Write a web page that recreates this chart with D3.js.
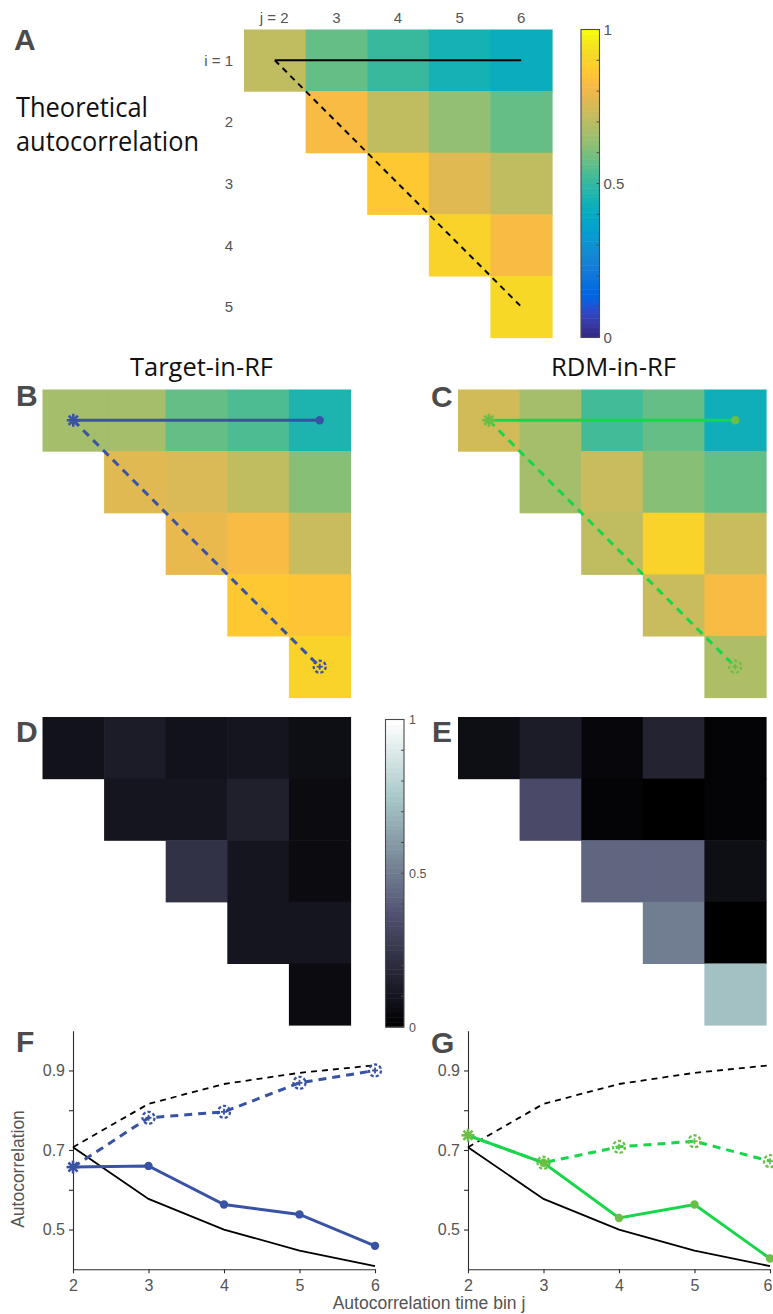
<!DOCTYPE html>
<html>
<head>
<meta charset="utf-8">
<script src="https://cdn.jsdelivr.net/npm/d3@7"></script>
<style>
  body { margin: 0; background: #fff; }
  svg { display: block; }
</style>
</head>
<body>
<svg id="fig" width="773" height="1314"></svg>
<script>
// ---- data ----------------------------------------------------------------
const timeBins = [2, 3, 4, 5, 6];   // j
const refBins  = [1, 2, 3, 4, 5];   // i

// autocorrelation matrices, rows i = 1..5, columns j = 2..6 (null below diagonal)
const theoryCorr = [
  [0.707, 0.577, 0.500, 0.447, 0.408],
  [null,  0.816, 0.707, 0.632, 0.577],
  [null,  null,  0.866, 0.775, 0.707],
  [null,  null,  null,  0.894, 0.816],
  [null,  null,  null,  null,  0.913]
];
const targetCorr = [
  [0.657, 0.660, 0.563, 0.538, 0.459],
  [null,  0.781, 0.758, 0.712, 0.617],
  [null,  null,  0.796, 0.825, 0.727],
  [null,  null,  null,  0.869, 0.850],
  [null,  null,  null,  null,  0.900]
];
const rdmCorr = [
  [0.737, 0.668, 0.529, 0.563, 0.427],
  [null,  0.668, 0.728, 0.617, 0.565],
  [null,  null,  0.708, 0.905, 0.727],
  [null,  null,  null,  0.722, 0.818],
  [null,  null,  null,  null,  0.672]
];
// deviation from theory, 0..1
const targetDev = [
  [0.085, 0.130, 0.085, 0.105, 0.075],
  [null,  0.100, 0.100, 0.145, 0.060],
  [null,  null,  0.225, 0.100, 0.050],
  [null,  null,  null,  0.100, 0.105],
  [null,  null,  null,  null,  0.055]
];
const rdmDev = [
  [0.070, 0.140, 0.040, 0.160, 0.025],
  [null,  0.335, 0.020, 0.002, 0.030],
  [null,  null,  0.430, 0.430, 0.070],
  [null,  null,  null,  0.508, 0.005],
  [null,  null,  null,  null,  0.725]
];

const corrTicks = [0.5, 0.6, 0.7, 0.8, 0.9];
const corrTickLabels = ["0.5", "", "0.7", "", "0.9"];
const cbarTicks = [0, 0.1, 0.2, 0.3, 0.4, 0.5, 0.6, 0.7, 0.8, 0.9, 1];
const cbarLabels = { 0: "0", 0.5: "0.5", 1: "1" };

// ---- colour maps ---------------------------------------------------------
const PARULA = [
[0.2081,0.1663,0.5292],[0.2116,0.1898,0.5777],[0.2123,0.2138,0.6270],[0.2081,0.2386,0.6771],
[0.1959,0.2645,0.7279],[0.1707,0.2919,0.7792],[0.1253,0.3242,0.8303],[0.0591,0.3598,0.8683],
[0.0117,0.3875,0.8820],[0.0060,0.4086,0.8828],[0.0165,0.4266,0.8786],[0.0329,0.4430,0.8720],
[0.0498,0.4586,0.8641],[0.0629,0.4737,0.8554],[0.0723,0.4887,0.8467],[0.0779,0.5040,0.8384],
[0.0793,0.5200,0.8312],[0.0749,0.5375,0.8263],[0.0641,0.5570,0.8240],[0.0488,0.5772,0.8228],
[0.0343,0.5966,0.8199],[0.0265,0.6137,0.8135],[0.0239,0.6287,0.8038],[0.0231,0.6418,0.7913],
[0.0228,0.6535,0.7768],[0.0267,0.6642,0.7607],[0.0384,0.6743,0.7436],[0.0590,0.6838,0.7254],
[0.0843,0.6928,0.7062],[0.1133,0.7015,0.6859],[0.1453,0.7098,0.6646],[0.1801,0.7177,0.6424],
[0.2178,0.7250,0.6193],[0.2586,0.7317,0.5954],[0.3022,0.7376,0.5712],[0.3482,0.7424,0.5473],
[0.3953,0.7459,0.5244],[0.4420,0.7481,0.5033],[0.4871,0.7491,0.4840],[0.5300,0.7491,0.4661],
[0.5709,0.7485,0.4494],[0.6099,0.7473,0.4337],[0.6473,0.7456,0.4188],[0.6834,0.7435,0.4044],
[0.7184,0.7411,0.3905],[0.7525,0.7384,0.3768],[0.7858,0.7356,0.3633],[0.8185,0.7327,0.3498],
[0.8507,0.7299,0.3360],[0.8824,0.7274,0.3217],[0.9139,0.7258,0.3063],[0.9450,0.7261,0.2886],
[0.9739,0.7314,0.2666],[0.9938,0.7455,0.2403],[0.9990,0.7653,0.2164],[0.9955,0.7861,0.1967],
[0.9880,0.8066,0.1794],[0.9789,0.8271,0.1633],[0.9697,0.8481,0.1475],[0.9626,0.8705,0.1309],
[0.9589,0.8949,0.1132],[0.9598,0.9218,0.0948],[0.9661,0.9514,0.0755],[0.9763,0.9831,0.0538]
];
const toHex = c => d3.rgb(c[0] * 255, c[1] * 255, c[2] * 255).formatHex();
const parulaColors = PARULA.map(toHex);

// "bone": 7/8 gray plus 1/8 reversed "hot"
function boneColors(m) {
  const n = Math.floor(3 / 8 * m), out = [];
  for (let k = 0; k < m; k++) {
    const gray = k / (m - 1);
    const hr = k < n ? (k + 1) / n : 1;
    const hg = k < n ? 0 : (k < 2 * n ? (k - n + 1) / n : 1);
    const hb = k < 2 * n ? 0 : (k - 2 * n + 1) / (m - 2 * n);
    out.push(toHex([(7 * gray + hb) / 8, (7 * gray + hg) / 8, (7 * gray + hr) / 8]));
  }
  return out;
}
const bone = boneColors(64);

const parulaScale = d3.scaleQuantize().domain([0, 1]).range(parulaColors);
const boneScale = d3.scaleQuantize().domain([0, 1]).range(bone);

// ---- styling -------------------------------------------------------------
const CELL = 61.6;
const BLUE = "#3953a4";
const GREEN_LINE = "#17d64a";
const GREEN_MARK = "#6bbf47";
const AX = "#2b2b2b";
const TXT = "#545454";
const SANS = "'Liberation Sans', Arial, Helvetica, sans-serif";
const HUMAN = "'Open Sans', 'Noto Sans', sans-serif";

const svg = d3.select("#fig");
svg.append("rect").attr("width", 773).attr("height", 1314).attr("fill", "#fff");

// ---- helpers -------------------------------------------------------------
function gridScales(x0, y0) {
  return {
    x: d3.scaleBand().domain(timeBins).range([x0, x0 + 5 * CELL]),
    y: d3.scaleBand().domain(refBins).range([y0, y0 + 5 * CELL])
  };
}

function drawMatrix(sc, matrix, cscale) {
  const g = svg.append("g");
  const cells = [];
  matrix.forEach((row, r) => row.forEach((v, c) => {
    if (v !== null) cells.push({ i: refBins[r], j: timeBins[c], v });
  }));
  g.selectAll("rect").data(cells).join("rect")
    .attr("x", d => sc.x(d.j))
    .attr("y", d => sc.y(d.i))
    .attr("width", sc.x.bandwidth() + 0.6)
    .attr("height", sc.y.bandwidth() + 0.6)
    .attr("fill", d => cscale(d.v));
  return g;
}

function asterisk(g, x, y, r, color, w) {
  [0, 45, 90, 135].forEach(a => {
    const rad = a * Math.PI / 180, dx = Math.cos(rad) * r, dy = Math.sin(rad) * r;
    g.append("line")
      .attr("x1", x - dx).attr("y1", y - dy).attr("x2", x + dx).attr("y2", y + dy)
      .attr("stroke", color).attr("stroke-width", w);
  });
}
// broken-ring marker used on the dashed series
function ringMarker(g, x, y, color) {
  g.append("circle").attr("cx", x).attr("cy", y).attr("r", 6)
    .attr("fill", "none").attr("stroke", color).attr("stroke-width", 2.3)
    .attr("stroke-dasharray", "3.2,2.1");
  [0, 90].forEach(a => {
    const rad = a * Math.PI / 180, dx = Math.cos(rad) * 3, dy = Math.sin(rad) * 3;
    g.append("line")
      .attr("x1", x - dx).attr("y1", y - dy).attr("x2", x + dx).attr("y2", y + dy)
      .attr("stroke", color).attr("stroke-width", 1.8);
  });
}
function dot(g, x, y, r, color) {
  g.append("circle").attr("cx", x).attr("cy", y).attr("r", r).attr("fill", color);
}

// lines along row i = 1 and along the diagonal, laid over a matrix
function overlay(sc, lineColor, markColor, dashed) {
  const g = svg.append("g");
  const cx = j => sc.x(j) + sc.x.bandwidth() / 2;
  const cy = i => sc.y(i) + sc.y.bandwidth() / 2;
  const jFirst = timeBins[0], jLast = timeBins[timeBins.length - 1];
  const iFirst = refBins[0], iLast = refBins[refBins.length - 1];
  g.append("line")
    .attr("x1", cx(jFirst)).attr("y1", cy(iFirst)).attr("x2", cx(jLast)).attr("y2", cy(iLast))
    .attr("stroke", lineColor).attr("stroke-width", dashed ? 2 : 3)
    .attr("stroke-dasharray", dashed ? "6,5" : "8,6");
  g.append("line")
    .attr("x1", cx(jFirst)).attr("y1", cy(iFirst)).attr("x2", cx(jLast)).attr("y2", cy(iFirst))
    .attr("stroke", lineColor).attr("stroke-width", dashed ? 2 : 3);
  if (markColor) {
    asterisk(g, cx(jFirst), cy(iFirst), 6.5, markColor, 2.6);
    dot(g, cx(jLast), cy(iFirst), 4.2, markColor);
    ringMarker(g, cx(jLast), cy(iLast), markColor);
  }
}

function colorbar(x0, y0, y1, colors, fontSize, labelDx) {
  const g = svg.append("g");
  const w = 18.5;
  const ys = d3.scaleLinear().domain([0, 1]).range([y1, y0]);
  const n = colors.length;
  g.selectAll("rect.c").data(colors).join("rect").attr("class", "c")
    .attr("x", x0).attr("width", w)
    .attr("y", (d, k) => ys((k + 1) / n))
    .attr("height", (d, k) => ys(k / n) - ys((k + 1) / n) + 0.5)
    .attr("fill", d => d);
  g.append("rect").attr("x", x0).attr("y", y0).attr("width", w).attr("height", y1 - y0)
    .attr("fill", "none").attr("stroke", "#4a4a4a").attr("stroke-width", 1.1);
  cbarTicks.forEach(t => {
    g.append("line").attr("x1", x0 + w).attr("x2", x0 + w - 3)
      .attr("y1", ys(t)).attr("y2", ys(t)).attr("stroke", "#4a4a4a").attr("stroke-width", 1);
    if (cbarLabels[t] !== undefined) {
      g.append("text").attr("x", x0 + w + labelDx).attr("y", ys(t))
        .attr("dy", "0.36em").attr("font-family", SANS).attr("font-size", fontSize)
        .attr("fill", TXT).text(cbarLabels[t]);
    }
  });
}

function panelLetter(txt, x, y) {
  svg.append("text").attr("x", x).attr("y", y).attr("font-family", SANS)
    .attr("font-weight", "bold").attr("font-size", 30).attr("fill", "#4b4b4b").text(txt);
}

function fittedText(txt, x, y, size, width, anchor) {
  svg.append("text").attr("x", x).attr("y", y).attr("font-family", HUMAN)
    .attr("font-size", size).attr("fill", "#111").attr("text-anchor", anchor || "start")
    .attr("textLength", width).attr("lengthAdjust", "spacingAndGlyphs").text(txt);
}

// ---- panel A : theoretical autocorrelation ------------------------------
const scA = gridScales(244, 29.5);
drawMatrix(scA, theoryCorr, parulaScale);
overlay(scA, "#000", null, true);
timeBins.forEach((j, k) => {
  svg.append("text").attr("x", scA.x(j) + scA.x.bandwidth() / 2 + (k === 0 ? -15 : 0)).attr("y", 23)
    .attr("text-anchor", k === 0 ? "start" : "middle").attr("font-family", SANS)
    .attr("font-size", 15).attr("fill", TXT).text(k === 0 ? "j = " + j : j);
});
refBins.forEach((i, k) => {
  svg.append("text").attr("x", 233).attr("y", scA.y(i) + scA.y.bandwidth() / 2)
    .attr("dy", "0.36em").attr("text-anchor", "end").attr("font-family", SANS)
    .attr("font-size", 15).attr("fill", TXT).text(k === 0 ? "i = " + i : i);
});
colorbar(581, 29.5, 337.5, parulaColors, 15, 4);
panelLetter("A", 14, 50);
fittedText("Theoretical", 16, 117, 27, 132);
fittedText("autocorrelation", 16, 151, 27, 183);

// ---- panels B, C : measured autocorrelation -----------------------------
const scB = gridScales(42.5, 389.5);
const scC = gridScales(458, 389.5);
drawMatrix(scB, targetCorr, parulaScale);
drawMatrix(scC, rdmCorr, parulaScale);
overlay(scB, BLUE, BLUE, false);
overlay(scC, GREEN_LINE, GREEN_MARK, false);
fittedText("Target-in-RF", 201.5, 376, 26, 143, "middle");
fittedText("RDM-in-RF", 613.5, 376, 26, 125, "middle");
panelLetter("B", 16, 406);
panelLetter("C", 431, 407);

// ---- panels D, E : deviation from theory --------------------------------
const scD = gridScales(42.5, 717);
const scE = gridScales(458, 717);
drawMatrix(scD, targetDev, boneScale);
drawMatrix(scE, rdmDev, boneScale);
colorbar(385.5, 719.5, 1027, bone, 12.5, 5);
panelLetter("D", 16, 742);
panelLetter("E", 432, 742);

// ---- panels F, G : autocorrelation vs time bin --------------------------
const yCorr = d3.scaleLinear().domain([0.4, 1.0]).range([1269.3, 1030.7]);
const rowOf = m => m[0];
const diagOf = m => timeBins.map((j, k) => m[k][k]);

function linePanel(x0, x1, matrix, lineColor, markColor) {
  const xs = d3.scaleLinear().domain([timeBins[0], timeBins[timeBins.length - 1]]).range([x0, x1]);
  const g = svg.append("g");
  const line = d3.line().x((d, k) => xs(timeBins[k])).y(d => yCorr(d));

  // axes
  const ax = g.append("g").attr("transform", `translate(0,${yCorr(0.4)})`)
    .call(d3.axisBottom(xs).tickValues(timeBins).tickFormat(d3.format("d")).tickSize(4).tickSizeOuter(0));
  const ay = g.append("g").attr("transform", `translate(${x0},0)`)
    .call(d3.axisLeft(yCorr).tickValues(corrTicks).tickFormat((d, k) => corrTickLabels[k]).tickSize(4).tickSizeOuter(0));
  [ax, ay].forEach(a => {
    a.select(".domain").attr("stroke", AX).attr("stroke-width", 1.1);
    a.selectAll(".tick line").attr("stroke", AX).attr("stroke-width", 1.1);
    a.selectAll(".tick text").attr("font-family", SANS).attr("font-size", 16).attr("fill", TXT);
  });
  ax.selectAll(".tick text").attr("dy", "0.95em");
  // keep the last label inside the page edge
  ax.selectAll(".tick text").filter(d => xs(d) > 765).attr("dx", "-2.5px");
  ay.selectAll(".tick text").attr("dx", "-1px");

  // theory
  g.append("path").datum(rowOf(theoryCorr)).attr("d", line)
    .attr("fill", "none").attr("stroke", "#000").attr("stroke-width", 1.8);
  g.append("path").datum(diagOf(theoryCorr)).attr("d", line)
    .attr("fill", "none").attr("stroke", "#000").attr("stroke-width", 1.8).attr("stroke-dasharray", "6,5");

  // measured
  const diag = diagOf(matrix), row = rowOf(matrix);
  g.append("path").datum(diag).attr("d", line)
    .attr("fill", "none").attr("stroke", lineColor).attr("stroke-width", 3).attr("stroke-dasharray", "8,6");
  g.append("path").datum(row).attr("d", line)
    .attr("fill", "none").attr("stroke", lineColor).attr("stroke-width", 3);
  row.forEach((v, k) => {
    if (k > 0) dot(g, xs(timeBins[k]), yCorr(v), 4.2, markColor);
  });
  diag.forEach((v, k) => {
    if (k > 0) ringMarker(g, xs(timeBins[k]), yCorr(v), markColor);
  });
  asterisk(g, xs(timeBins[0]), yCorr(row[0]), 6.5, markColor, 2.6);
}

linePanel(73, 375, targetCorr, BLUE, BLUE);
linePanel(468, 770, rdmCorr, GREEN_LINE, GREEN_MARK);
panelLetter("F", 16, 1052);
panelLetter("G", 431, 1053);

svg.append("text").attr("transform", "translate(24,1169) rotate(-90)")
  .attr("text-anchor", "middle").attr("font-family", SANS).attr("font-size", 17.5)
  .attr("fill", TXT).text("Autocorrelation");
svg.append("text").attr("x", 429).attr("y", 1309)
  .attr("text-anchor", "middle").attr("font-family", SANS).attr("font-size", 17.5)
  .attr("fill", TXT).text("Autocorrelation time bin j");
</script>
</body>
</html>
